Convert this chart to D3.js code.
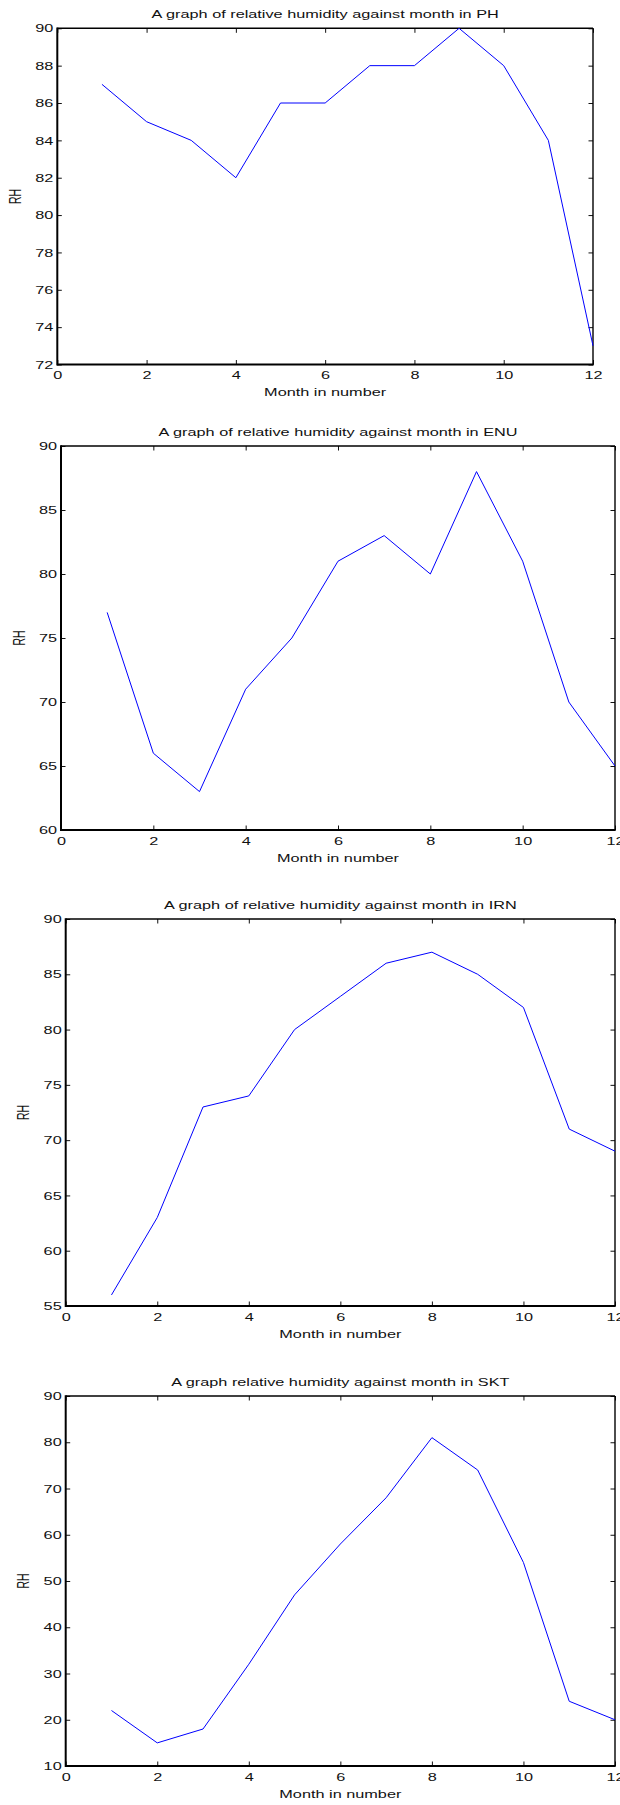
<!DOCTYPE html>
<html>
<head>
<meta charset="utf-8">
<script src="https://cdn.jsdelivr.net/npm/d3@7"></script>
<style>
  html, body { margin: 0; padding: 0; background: #fff; }
  svg { display: block; }
  text { font-family: "Liberation Sans", Arial, Helvetica, sans-serif; font-size: 10.5px; fill: #111; }
</style>
</head>
<body>
<svg id="chart" width="620" height="1805"></svg>
<script>
// Monthly relative humidity (%) for four stations
const months = [1, 2, 3, 4, 5, 6, 7, 8, 9, 10, 11, 12];
const rhPH  = [87, 85, 84, 82, 86, 86, 88, 88, 90, 88, 84, 73];
const rhENU = [77, 66, 63, 71, 75, 81, 83, 80, 88, 81, 70, 65];
const rhIRN = [56, 63, 73, 74, 80, 83, 86, 87, 85, 82, 71, 69];
const rhSKT = [22, 15, 18, 32, 47, 58, 68, 81, 74, 54, 24, 20];

// Tick labels
const monthTicks = [0, 2, 4, 6, 8, 10, 12];
const ticksPH  = [72, 74, 76, 78, 80, 82, 84, 86, 88, 90];
const ticksENU = [60, 65, 70, 75, 80, 85, 90];
const ticksIRN = [55, 60, 65, 70, 75, 80, 85, 90];
const ticksSKT = [10, 20, 30, 40, 50, 60, 70, 80, 90];

// Titles and axis labels
const titles = [
  "A graph of relative humidity against month in PH",
  "A graph of relative humidity against month in ENU",
  "A graph of relative humidity against month in IRN",
  "A graph relative humidity against month in SKT"
];
const xLabel = "Month in number";
const yLabel = "RH";

// Plot-box layout of each panel
const panels = [
  { values: rhPH,  ticks: ticksPH,  title: titles[0], left: 57.3, right: 593, top: 28.3, bottom: 364.5 },
  { values: rhENU, ticks: ticksENU, title: titles[1], left: 61,   right: 615, top: 446,  bottom: 830 },
  { values: rhIRN, ticks: ticksIRN, title: titles[2], left: 65.7, right: 615, top: 919,  bottom: 1306 },
  { values: rhSKT, ticks: ticksSKT, title: titles[3], left: 65.7, right: 615, top: 1396, bottom: 1766 }
];

const SX = 1.55;      // horizontal stretch of all lettering
const TICK = 4.5;     // inward tick length

const svg = d3.select("#chart");

function styleTicks(g) {
  g.select(".domain").remove();
  g.selectAll(".tick line").attr("stroke", "#111").attr("stroke-width", 1);
}

panels.forEach(p => {
  const x = d3.scaleLinear().domain([0, 12]).range([p.left, p.right]);
  const y = d3.scaleLinear().domain([p.ticks[0], p.ticks[p.ticks.length - 1]]).range([p.bottom, p.top]);
  const g = svg.append("g");

  // bottom axis with labels
  const gb = g.append("g").attr("transform", `translate(0,${p.bottom})`)
    .call(d3.axisBottom(x).tickValues(monthTicks).tickSizeInner(-TICK).tickSizeOuter(0).tickFormat(d3.format("d")));
  styleTicks(gb);
  gb.selectAll(".tick text")
    .attr("x", 0).attr("y", 0).attr("dy", "0.35em")
    .attr("text-anchor", "middle")
    .attr("transform", `translate(0,11) scale(${SX},1)`)
    .attr("fill", "#111");

  // top axis, ticks only
  const gt = g.append("g").attr("transform", `translate(0,${p.top})`)
    .call(d3.axisTop(x).tickValues(monthTicks).tickSizeInner(-TICK).tickSizeOuter(0).tickFormat(""));
  styleTicks(gt);

  // left axis with labels
  const gl = g.append("g").attr("transform", `translate(${p.left},0)`)
    .call(d3.axisLeft(y).tickValues(p.ticks).tickSizeInner(-TICK).tickSizeOuter(0).tickFormat(d3.format("d")));
  styleTicks(gl);
  gl.selectAll(".tick text")
    .attr("x", 0).attr("y", 0).attr("dy", "0.35em")
    .attr("text-anchor", "end")
    .attr("transform", `translate(-4,0) scale(${SX},1)`)
    .attr("fill", "#111");

  // right axis, ticks only
  const gr = g.append("g").attr("transform", `translate(${p.right},0)`)
    .call(d3.axisRight(y).tickValues(p.ticks).tickSizeInner(-TICK).tickSizeOuter(0).tickFormat(""));
  styleTicks(gr);

  // box
  g.append("line").attr("x1", p.left).attr("x2", p.right).attr("y1", p.top).attr("y2", p.top)
    .attr("stroke", "#000").attr("stroke-width", 1.4);
  g.append("line").attr("x1", p.right).attr("x2", p.right).attr("y1", p.top).attr("y2", p.bottom)
    .attr("stroke", "#000").attr("stroke-width", 1.4);
  g.append("line").attr("x1", p.left).attr("x2", p.left).attr("y1", p.top - 0.7).attr("y2", p.bottom + 1)
    .attr("stroke", "#000").attr("stroke-width", 2);
  g.append("line").attr("x1", p.left).attr("x2", p.right + 0.7).attr("y1", p.bottom).attr("y2", p.bottom)
    .attr("stroke", "#000").attr("stroke-width", 2);

  // data line
  const line = d3.line().x((d, i) => x(months[i])).y(d => y(d));
  g.append("path").datum(p.values)
    .attr("d", line)
    .attr("fill", "none")
    .attr("stroke", "#0000ff")
    .attr("stroke-width", 1);

  // title
  g.append("text")
    .attr("text-anchor", "middle").attr("dy", "0.35em")
    .attr("transform", `translate(${(p.left + p.right) / 2},${p.top - 14}) scale(${SX},1)`)
    .text(p.title);

  // x label
  g.append("text")
    .attr("text-anchor", "middle").attr("dy", "0.35em")
    .attr("transform", `translate(${(p.left + p.right) / 2},${p.bottom + 28}) scale(${SX},1)`)
    .text(xLabel);

  // y label
  g.append("text")
    .attr("text-anchor", "middle").attr("dy", "0.35em")
    .attr("transform", `translate(${p.left - 42},${(p.top + p.bottom) / 2}) scale(${SX},1) rotate(-90)`)
    .text(yLabel);
});
</script>
</body>
</html>
